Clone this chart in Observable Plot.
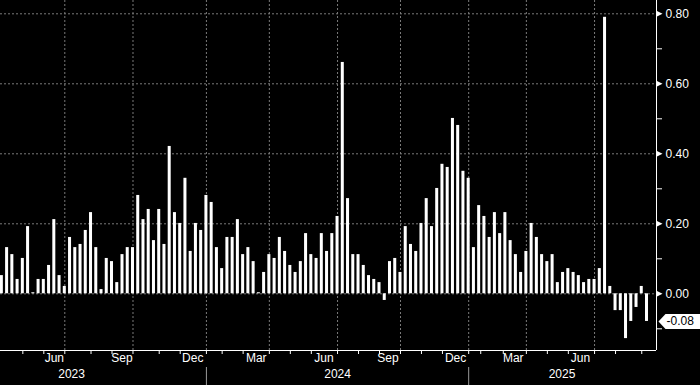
<!DOCTYPE html>
<html><head><meta charset="utf-8">
<script src="https://cdn.jsdelivr.net/npm/d3@7"></script>
<script src="https://cdn.jsdelivr.net/npm/@observablehq/plot@0.6"></script>
<style>
html,body{margin:0;padding:0;background:#000;}
#chart{width:700px;height:385px;overflow:hidden;}
</style></head><body><div id="chart"></div>
<script>
const values = [
  0.052, 0.132, 0.112, 0.041, 0.101, 0.192, 0.003, 0.041, 0.041, 0.081,
  0.212, 0.052, 0.021, 0.161, 0.132, 0.141, 0.181, 0.232, 0.132, 0.012,
  0.101, 0.092, 0.032, 0.112, 0.132, 0.132, 0.281, 0.212, 0.241, 0.152,
  0.241, 0.141, 0.421, 0.232, 0.201, 0.330, 0.121, 0.201, 0.181, 0.281,
  0.261, 0.132, 0.072, 0.161, 0.161, 0.212, 0.112, 0.132, 0.092, 0.003,
  0.061, 0.112, 0.101, 0.161, 0.121, 0.081, 0.061, 0.092, 0.172, 0.112,
  0.101, 0.172, 0.121, 0.172, 0.221, 0.661, 0.272, 0.112, 0.112, 0.081,
  0.052, 0.041, 0.032, -0.019, 0.092, 0.101, 0.061, 0.192, 0.141, 0.121,
  0.201, 0.272, 0.192, 0.301, 0.370, 0.361, 0.501, 0.481, 0.350, 0.330,
  0.132, 0.252, 0.221, 0.161, 0.232, 0.172, 0.232, 0.152, 0.112, 0.061,
  0.121, 0.201, 0.161, 0.112, 0.092, 0.112, 0.032, 0.061, 0.072, 0.061,
  0.052, 0.032, 0.041, 0.041, 0.072, 0.790, 0.021, -0.048, -0.048, -0.128,
  -0.079, -0.039, 0.021, -0.079
];
// axis positions expressed in observation index
const monthTicks = [4, 8, 12, 17, 21, 25, 30, 34, 39, 42, 46, 51, 55, 59, 64, 68, 72, 76, 80, 84, 89, 91.3, 95.6, 100, 104, 108, 113, 117, 122];
const quarterLines = [12, 25, 39, 51, 64, 76, 89, 100, 113];
const monthLabels = ["Jun", "Sep", "Dec", "Mar", "Jun", "Sep", "Dec", "Mar", "Jun"];
const monthLabelPos = [10.0, 22.9, 36.4, 48.5, 61.4, 73.6, 86.5, 97.5, 110.3];
const yearLabels = ["2023", "2024", "2025"];
const yearLabelPos = [13.3, 64.0, 106.8];
const yearBreaks = [39, 89];
const yMajor = [0, 0.2, 0.4, 0.6, 0.8];
const yMinor = [-0.1, 0.1, 0.3, 0.5, 0.7];
const lastLabel = "-0.08";

const xDomain = [-0.259, 124.81];
const yDomain = [-0.162, 0.838];
const lastValue = values[values.length - 1];

const arrowMarker = {draw(ctx) { ctx.moveTo(0, -3); ctx.lineTo(6, 0); ctx.lineTo(0, 3); ctx.closePath(); }};
const pennant = {draw(ctx) { ctx.moveTo(2, 0); ctx.lineTo(9, -7.5); ctx.lineTo(44, -7.5); ctx.lineTo(44, 7.5); ctx.lineTo(9, 7.5); ctx.closePath(); }};

const chart = Plot.plot({
  width: 700,
  height: 385,
  marginLeft: 0,
  marginRight: 44,
  marginTop: 0,
  marginBottom: 35,
  style: {background: "#000", color: "#fff", fontFamily: "'Liberation Sans', Arial, sans-serif", fontSize: "12px"},
  x: {type: "linear", domain: xDomain},
  y: {type: "linear", domain: yDomain},
  marks: [
    Plot.ruleY(yMajor, {y: d => d, stroke: "#7a7a7a", strokeDasharray: "2,2"}),
    Plot.ruleX(quarterLines, {x: d => d, stroke: "#7a7a7a", strokeDasharray: "2,2"}),
    Plot.rect(values, {x1: (d, i) => i - 0.5, x2: (d, i) => i + 0.5, y1: () => 0, y2: d => d, fill: "#fff", insetLeft: 1.12, insetRight: 1.12}),
    Plot.ruleX([xDomain[1]], {x: d => d, stroke: "#fff"}),
    Plot.ruleY([yDomain[0]], {y: d => d, stroke: "#fff"}),
    Plot.axisX({ticks: monthTicks, tickSize: 4, tickFormat: () => "", stroke: "#fff"}),
    Plot.text(monthLabels, {x: (d, i) => monthLabelPos[i], text: d => d, frameAnchor: "bottom", dy: 11, fill: "#fff"}),
    Plot.text(yearLabels, {x: (d, i) => yearLabelPos[i], text: d => d, frameAnchor: "bottom", dy: 27, fill: "#fff"}),
    Plot.ruleX(yearBreaks, {x: d => d, insetTop: 367, insetBottom: -35, stroke: "#999"}),
    Plot.axisY({anchor: "right", ticks: yMinor, tickSize: 5, tickFormat: () => "", stroke: "#fff"}),
    Plot.axisY({anchor: "right", ticks: yMajor, tickSize: 0, tickPadding: 9, tickFormat: d3.format(".2f"), fill: "#fff"}),
    Plot.dot(yMajor, {y: d => d, frameAnchor: "right", symbol: arrowMarker, fill: "#fff", stroke: "none", r: 3}),
    Plot.dot([lastValue], {y: d => d, frameAnchor: "right", symbol: pennant, fill: "#fff", stroke: "none", r: 3}),
    Plot.text([lastValue], {y: d => d, frameAnchor: "right", dx: 10, text: () => lastLabel, textAnchor: "start", fill: "#000"})
  ]
});
document.getElementById("chart").appendChild(chart);
</script>
</body></html>
